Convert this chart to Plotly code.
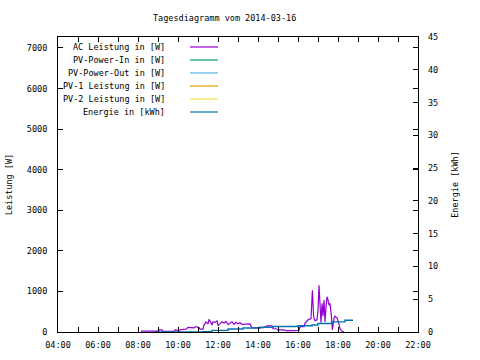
import plotly.graph_objects as go

# ---- data ----
ac_time = [8.15, 8.4, 8.5, 8.75, 8.8, 9.0, 9.05, 9.2, 9.25, 9.5, 9.8, 9.85, 10.0, 10.15, 10.25, 10.4,
           10.5, 10.7, 10.8, 10.9, 11.05, 11.1, 11.25, 11.3, 11.4, 11.5, 11.55, 11.65, 11.7, 11.75,
           11.85, 11.95, 12.0, 12.1, 12.2, 12.3, 12.4, 12.5, 12.6, 12.7, 12.8, 12.9, 13.0, 13.1,
           13.2, 13.4, 13.6, 13.7, 13.9, 14.0, 14.3, 14.45, 14.7, 14.75, 14.9, 15.0, 15.3, 15.45,
           15.8, 15.85, 16.05, 16.1, 16.3, 16.35, 16.5, 16.65, 16.72, 16.78, 16.85, 16.95, 17.0,
           17.05, 17.1, 17.15, 17.2, 17.25, 17.3, 17.35, 17.4, 17.45, 17.5, 17.55, 17.6, 17.65,
           17.67, 17.72, 17.75, 17.8, 17.85, 17.95, 18.03, 18.1, 18.2, 18.3]
ac_power = [20, 20, 30, 30, 20, 20, 50, 50, 15, 15, 15, 50, 40, 60, 70, 70,
            115, 115, 100, 130, 110, 70, 70, 170, 250, 200, 310, 230, 170, 250,
            240, 270, 160, 200, 250, 220, 260, 180, 210, 250, 190, 240, 200, 230,
            190, 190, 200, 100, 100, 110, 110, 150, 150, 80, 80, 50, 50, 30,
            30, 40, 40, 130, 130, 220, 300, 330, 1030, 380, 280, 300, 540,
            1150, 540, 230, 710, 390, 790, 250, 620, 870, 790, 660, 710, 540,
            390, 50, 230, 340, 390, 350, 230, 80, 20, 0]

pv_in_time, pv_in_power = [], []
pv_out_time, pv_out_power = [], []
pv1_time, pv1_power = [], []
pv2_time, pv2_power = [], []

energy_time = [8.85, 11.25, 11.7, 12.5, 13.25, 14.1, 14.75, 16.0, 16.7, 17.0, 17.7, 18.35, 18.75]
energy_kwh = [0.0, 0.05, 0.25, 0.45, 0.6, 0.72, 0.85, 0.95, 1.07, 1.3, 1.55, 1.8, 1.8]

series_names = ["AC Leistung in [W]", "PV-Power-In in [W]", "PV-Power-Out in [W]",
                "PV-1 Leistung in [W]", "PV-2 Leistung in [W]", "Energie in [kWh]"]
series_colors = ["#9400d3", "#009e73", "#56b4e9", "#e69f00", "#f0e442", "#0072b2"]

x_tickvals = [4, 6, 8, 10, 12, 14, 16, 18, 20, 22]
x_ticktext = ["04:00", "06:00", "08:00", "10:00", "12:00", "14:00", "16:00", "18:00", "20:00", "22:00"]
x_minor = [5, 7, 9, 11, 13, 15, 17, 19, 21]
title_text = "Tagesdiagramm vom 2014-03-16"

FONT = "DejaVu Sans Mono"

fig = go.Figure()
power_series = [(ac_time, ac_power), (pv_in_time, pv_in_power), (pv_out_time, pv_out_power),
                (pv1_time, pv1_power), (pv2_time, pv2_power)]
for (t, p), name, col in zip(power_series, series_names[:5], series_colors[:5]):
    fig.add_trace(go.Scatter(x=t if t else [None], y=p if p else [None], name=name, mode="lines",
                             line=dict(color=col, width=1.2), showlegend=False))
fig.add_trace(go.Scatter(x=energy_time, y=energy_kwh, name=series_names[5], mode="lines",
                         line=dict(color=series_colors[5], width=1.4, shape="hv"),
                         yaxis="y2", showlegend=False))

# custom gnuplot-style key (text right-aligned, sample on the right)
W, H = 480, 360
L, R, T, B = 58, 62, 37, 28
pw, ph = W - L - R, H - T - B
def px(x):
    return (x - L) / pw
def py(y):
    return 1 - (y - T) / ph

for i, (name, col) in enumerate(zip(series_names, series_colors)):
    yy = 47 + i * 13
    fig.add_annotation(x=px(167), y=py(yy), xref="paper", yref="paper", text=name,
                       showarrow=False, xanchor="right", yanchor="middle",
                       font=dict(family=FONT, size=8.5, color="black"))
    fig.add_shape(type="line", xref="paper", yref="paper", x0=px(190), x1=px(218),
                  y0=py(yy), y1=py(yy), line=dict(color=col, width=1.2))

fig.add_annotation(x=px(224), y=py(18), xref="paper", yref="paper",
                   text=title_text, showarrow=False, xanchor="center", yanchor="middle",
                   font=dict(family=FONT, size=8.5, color="black"))

fig.update_layout(
    width=W, height=H,
    margin=dict(l=L, r=R, t=T, b=B, autoexpand=False),
    paper_bgcolor="white", plot_bgcolor="white",
    font=dict(family=FONT, size=8.5, color="black"),
    xaxis=dict(range=[4, 22], tickmode="array", tickvals=x_tickvals, ticktext=x_ticktext,
               ticks="inside", ticklen=5, tickcolor="black", showline=True, linecolor="black",
               linewidth=1, mirror="allticks", showgrid=False, zeroline=False, automargin=False,
               ticklabelstandoff=5,
               minor=dict(tickmode="array", tickvals=x_minor, ticks="inside", ticklen=3,
                          tickcolor="black", showgrid=False),
               tickfont=dict(family=FONT, size=8.5)),
    yaxis=dict(range=[0, 7270], tickmode="linear", tick0=0, dtick=1000,
               ticks="inside", ticklen=5, tickcolor="black", showline=True, linecolor="black",
               linewidth=1, mirror="allticks", showgrid=False, zeroline=False, automargin=False,
               ticklabelstandoff=8,
               title=dict(text="Leistung [W]", standoff=12, font=dict(family=FONT, size=8.5)),
               tickfont=dict(family=FONT, size=8.5)),
    yaxis2=dict(range=[0, 45], tickmode="linear", tick0=0, dtick=5, overlaying="y", side="right",
                ticks="inside", ticklen=5, tickcolor="black", showline=False, automargin=False,
                showgrid=False, zeroline=False, ticklabelstandoff=9,
                title=dict(text="Energie [kWh]", standoff=14, font=dict(family=FONT, size=8.5)),
                tickfont=dict(family=FONT, size=8.5)),
)

fig.write_html("out.html", config={"displayModeBar": False},
               post_script="document.body.style.margin='0px';")
